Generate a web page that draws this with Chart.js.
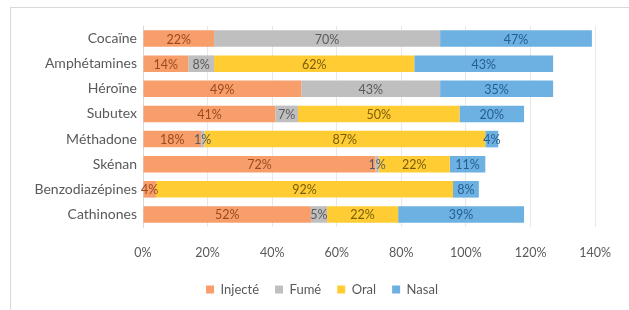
<!DOCTYPE html>
<html>
<head>
  <meta charset="utf-8">
  <style>
    body { margin: 0; background: #fff; }
    #frame { position: absolute; left: 10px; top: 7px; width: 640px; height: 320px; border-left: 1px solid #d9d9d9; border-top: 1px solid #d9d9d9; }
    #wrap { position: absolute; left: 11px; top: 8px; width: 618px; height: 302px; }
  </style>
</head>
<body>
  <div id="frame"></div>
  <div id="wrap"><canvas id="myChart"></canvas></div>

  <script src="https://cdn.jsdelivr.net/npm/chart.js@4/dist/chart.umd.min.js"></script>
  <script>
    // products, top to bottom
    var produits = ['Cocaïne', 'Amphétamines', 'Héroïne', 'Subutex', 'Méthadone', 'Skénan', 'Benzodiazépines', 'Cathinones'];

    // % per mode of use
    var injecte = [22, 14, 49, 41, 18, 72, 4, 52];
    var fume    = [70, 8, 43, 7, 1, 1, 0, 5];
    var oral    = [0, 62, 0, 50, 87, 22, 92, 22];
    var nasal   = [47, 43, 35, 20, 4, 11, 8, 39];

    var xTicks = [0, 20, 40, 60, 80, 100, 120, 140];

    var fontFam = 'Lato, "Open Sans", sans-serif';

    // draw value labels in the middle of each segment (no plugin available offline)
    var valueLabels = {
      id: 'valueLabels',
      afterDatasetsDraw: function(chart) {
        var ctx = chart.ctx;
        ctx.save();
        ctx.font = '12.5px ' + fontFam;
        ctx.textAlign = 'center';
        ctx.textBaseline = 'middle';
        chart.data.datasets.forEach(function(ds, i) {
          var meta = chart.getDatasetMeta(i);
          ctx.fillStyle = ds.labelColor;
          meta.data.forEach(function(bar, j) {
            var v = ds.data[j];
            if (!v) return;
            var x = (bar.x + bar.base) / 2;
            ctx.fillText(v + '%', x, bar.y + 1);
          });
        });
        ctx.restore();
      }
    };

    // legend sits a bit right of the canvas centre in the original
    var legendShift = {
      id: 'legendShift',
      afterLayout: function(chart) {
        chart.legend.left += 18;
        chart.legend.right += 18;
      }
    };

    var ctx = document.getElementById('myChart').getContext('2d');
    var chart = new Chart(ctx, {
      type: 'bar',
      data: {
        labels: produits,
        datasets: [
          { label: 'Injecté', data: injecte, backgroundColor: '#F79E6B', labelColor: '#9a4a1e' },
          { label: 'Fumé', data: fume, backgroundColor: '#BFBFBF', labelColor: '#5a5a5a' },
          { label: 'Oral', data: oral, backgroundColor: '#FFCD33', labelColor: '#7a5c0a' },
          { label: 'Nasal', data: nasal, backgroundColor: '#6DB0E2', labelColor: '#245f8f' }
        ]
      },
      options: {
        indexAxis: 'y',
        responsive: true,
        maintainAspectRatio: false,
        animation: false,
        layout: { padding: { top: 18, right: 32, bottom: 4, left: 0 } },
        datasets: { bar: { barPercentage: 0.66, categoryPercentage: 1.0, borderWidth: 0 } },
        scales: {
          x: {
            stacked: true,
            min: 0,
            max: 140,
            afterBuildTicks: function(scale) {
              scale.ticks = xTicks.map(function(v) { return { value: v }; });
            },
            afterFit: function(scale) { scale.height = 40; },
            grid: { color: '#e8e8e8', drawTicks: false },
            border: { display: false },
            ticks: {
              padding: 18,
              color: '#595959',
              font: { family: fontFam, size: 12.5 },
              callback: function(v) { return v + '%'; }
            }
          },
          y: {
            stacked: true,
            grid: { display: false, drawTicks: false },
            border: { display: true, color: '#d9d9d9' },
            afterFit: function(scale) { scale.width = 132; },
            ticks: {
              padding: 6,
              color: '#595959',
              font: { family: fontFam, size: 14 }
            }
          }
        },
        plugins: {
          legend: {
            position: 'bottom',
            labels: {
              boxWidth: 8,
              boxHeight: 8,
              padding: 16,
              color: '#595959',
              font: { family: fontFam, size: 13 }
            }
          },
          tooltip: { enabled: false }
        }
      },
      plugins: [valueLabels, legendShift]
    });
  </script>
</body>
</html>
